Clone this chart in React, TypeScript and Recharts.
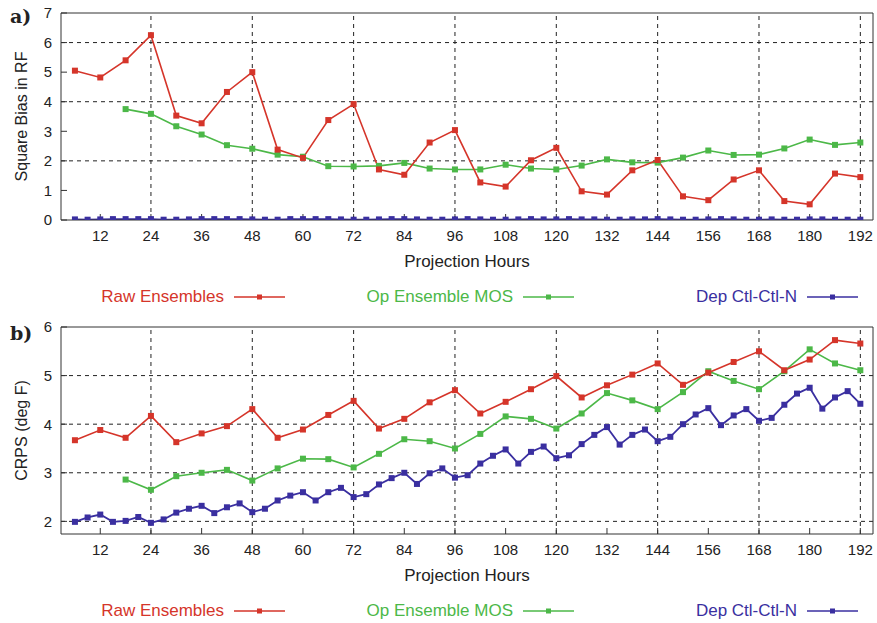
import { LineChart, Line, XAxis, YAxis, ReferenceLine } from 'recharts'

// projection hours (x values)
const hours6 = [6, 12, 18, 24, 30, 36, 42, 48, 54, 60, 66, 72, 78, 84, 90, 96, 102, 108, 114, 120, 126, 132, 138, 144, 150, 156, 162, 168, 174, 180, 186, 192]
const hours3 = [
  6, 9, 12, 15, 18, 21, 24, 27, 30, 33, 36, 39, 42, 45, 48, 51, 54, 57, 60, 63, 66,
  69, 72, 75, 78, 81, 84, 87, 90, 93, 96, 99, 102, 105, 108, 111, 114, 117, 120, 123, 126,
  129, 132, 135, 138, 141, 144, 147, 150, 153, 156, 159, 162, 165, 168, 171, 174, 177, 180, 183, 186, 189, 192,
]
const xTicks = [12, 24, 36, 48, 60, 72, 84, 96, 108, 120, 132, 144, 156, 168, 180, 192]
const xGrid = [24, 48, 72, 96, 120, 144, 168, 192]

// panel a) square bias in RF
const rawBias = [5.05, 4.82, 5.4, 6.25, 3.53, 3.27, 4.33, 5.0, 2.38, 2.1, 3.38, 3.92, 1.71, 1.53, 2.62, 3.04, 1.27, 1.13, 2.02, 2.44, 0.97, 0.86, 1.68, 2.03, 0.8, 0.67, 1.37, 1.68, 0.64, 0.53, 1.57, 1.45]
const mosBias = [3.75, 3.59, 3.17, 2.89, 2.53, 2.41, 2.21, 2.14, 1.82, 1.81, 1.83, 1.93, 1.74, 1.71, 1.71, 1.87, 1.74, 1.71, 1.84, 2.05, 1.95, 1.94, 2.11, 2.35, 2.2, 2.21, 2.42, 2.72, 2.54, 2.62]
const depBias = [
  0.02, 0.01, 0.02, 0.03, 0.03, 0.03, 0.03, 0.01, 0.01, 0.02,
  0.03, 0.03, 0.03, 0.03, 0.02, 0.01, 0.01, 0.03, 0.03, 0.03,
  0.03, 0.02, 0.01, 0.01, 0.02, 0.03, 0.03, 0.02, 0.01, 0.01,
  0.02, 0.03, 0.02, 0.01, 0.01, 0.02, 0.03, 0.02, 0.02, 0.03,
  0.02, 0.02, 0.01, 0.01, 0.02, 0.02, 0.03, 0.02, 0.01, 0.01,
  0.02, 0.03, 0.02, 0.01, 0.01, 0.02, 0.01, 0.01, 0.02, 0.02,
  0.01, 0.01, 0.01,
]
const biasTicks = [0, 1, 2, 3, 4, 5, 6, 7]
const biasGrid = [2, 4, 6]

// panel b) CRPS
const rawCrps = [3.67, 3.88, 3.72, 4.17, 3.63, 3.81, 3.96, 4.31, 3.72, 3.89, 4.19, 4.48, 3.91, 4.11, 4.45, 4.7, 4.22, 4.46, 4.72, 4.99, 4.55, 4.8, 5.02, 5.25, 4.81, 5.06, 5.28, 5.5, 5.11, 5.33, 5.73, 5.66]
const mosCrps = [2.86, 2.65, 2.93, 3.0, 3.06, 2.84, 3.09, 3.29, 3.28, 3.11, 3.39, 3.69, 3.65, 3.5, 3.8, 4.16, 4.11, 3.91, 4.22, 4.64, 4.49, 4.31, 4.66, 5.09, 4.89, 4.72, 5.09, 5.54, 5.25, 5.11]
const depCrps = [
  1.99, 2.08, 2.14, 1.99, 2.01, 2.09, 1.97, 2.04, 2.18, 2.26,
  2.32, 2.17, 2.29, 2.37, 2.19, 2.26, 2.43, 2.53, 2.6, 2.43,
  2.6, 2.69, 2.5, 2.56, 2.76, 2.89, 3.0, 2.77, 2.99, 3.09,
  2.9, 2.95, 3.19, 3.35, 3.48, 3.19, 3.43, 3.54, 3.3, 3.36,
  3.59, 3.78, 3.94, 3.58, 3.78, 3.89, 3.65, 3.74, 4.0, 4.2,
  4.33, 3.98, 4.18, 4.31, 4.07, 4.13, 4.4, 4.63, 4.75, 4.32,
  4.55, 4.68, 4.42,
]
const crpsTicks = [2, 3, 4, 5, 6]
const crpsGrid = [2, 3, 4, 5]

const RED = '#d5352a'
const GREEN = '#4cb848'
const BLUE = '#3a2fa0'
const FONT = '"Liberation Sans", Arial, sans-serif'
const AXIS = '#333'

const zip = (xs: number[], ys: number[]) => ys.map((v, i) => ({ hour: xs[i], value: v }))

const square = (color: string) => (p: any) =>
  p.cx == null ? null : <rect key={p.index} x={p.cx - 3} y={p.cy - 3} width={6} height={6} fill={color} />

interface PanelProps {
  top: number
  yLabel: string
  yDomain: [number, number]
  yTicks: number[]
  yGrid: number[]
  raw: number[]
  mos: number[]
  dep: number[]
}

function Panel({ top, yLabel, yDomain, yTicks, yGrid, raw, mos, dep }: PanelProps) {
  const tickStyle = { fontSize: 15, fill: '#222', fontFamily: FONT }
  return (
    <div style={{ position: 'absolute', left: 0, top }}>
      <LineChart width={877} height={281} margin={{ top: 12, right: 0, left: 0, bottom: 30 }}>
        <XAxis
          xAxisId="b"
          dataKey="hour"
          type="number"
          domain={[2.7, 195]}
          ticks={xTicks}
          allowDataOverflow
          height={31}
          tickSize={-6}
          tickMargin={16}
          stroke={AXIS}
          tick={tickStyle}
          label={{ value: 'Projection Hours', position: 'bottom', offset: 4, style: { fontSize: 17, fill: '#222', fontFamily: FONT } }}
        />
        <XAxis
          xAxisId="t"
          orientation="top"
          dataKey="hour"
          type="number"
          domain={[2.7, 195]}
          ticks={xTicks}
          allowDataOverflow
          height={1}
          tickSize={-6}
          tick={false}
          stroke={AXIS}
        />
        <YAxis
          yAxisId="l"
          domain={yDomain}
          ticks={yTicks}
          allowDataOverflow
          width={61}
          tickSize={-6}
          tickMargin={15}
          stroke={AXIS}
          tick={tickStyle}
          label={{ value: yLabel, angle: -90, position: 'center', dx: -9, style: { fontSize: 16, fill: '#222', fontFamily: FONT } }}
        />
        <YAxis
          yAxisId="r"
          orientation="right"
          domain={yDomain}
          ticks={yTicks}
          allowDataOverflow
          width={4}
          tickSize={-6}
          tick={false}
          stroke={AXIS}
        />
        {xGrid.map((h) => (
          <ReferenceLine key={'x' + h} x={h} xAxisId="b" yAxisId="l" stroke="#222" strokeDasharray="4 4" />
        ))}
        {yGrid.map((v) => (
          <ReferenceLine key={'y' + v} y={v} xAxisId="b" yAxisId="l" stroke="#222" strokeDasharray="4 4" />
        ))}
        <Line xAxisId="b" yAxisId="l" data={zip(hours3, dep)} dataKey="value" stroke={BLUE} strokeWidth={1.8} dot={square(BLUE)} activeDot={false} isAnimationActive={false} />
        <Line xAxisId="b" yAxisId="l" data={zip(hours6.slice(2), mos)} dataKey="value" stroke={GREEN} strokeWidth={1.6} dot={square(GREEN)} activeDot={false} isAnimationActive={false} />
        <Line xAxisId="b" yAxisId="l" data={zip(hours6, raw)} dataKey="value" stroke={RED} strokeWidth={1.6} dot={square(RED)} activeDot={false} isAnimationActive={false} />
      </LineChart>
    </div>
  )
}

const legendItems = [
  { name: 'Raw Ensembles', color: RED, lineStart: 234 },
  { name: 'Op Ensemble MOS', color: GREEN, lineStart: 523 },
  { name: 'Dep Ctl-Ctl-N', color: BLUE, lineStart: 807 },
]

function LegendRow({ y }: { y: number }) {
  return (
    <>
      {legendItems.map((it) => (
        <div key={it.name}>
          <div
            style={{
              position: 'absolute',
              left: it.lineStart - 210,
              top: y - 11,
              width: 200,
              textAlign: 'right',
              fontFamily: FONT,
              fontSize: 17,
              lineHeight: '22px',
              color: it.color,
              whiteSpace: 'nowrap',
            }}
          >
            {it.name}
          </div>
          <svg style={{ position: 'absolute', left: it.lineStart, top: y - 4 }} width={52} height={8}>
            <line x1={0} y1={4} x2={51} y2={4} stroke={it.color} strokeWidth={1.5} />
            <rect x={23} y={1.5} width={5} height={5} fill={it.color} />
          </svg>
        </div>
      ))}
    </>
  )
}

const panelLabel = (text: string, top: number) => (
  <div
    style={{
      position: 'absolute',
      left: 10,
      top,
      fontFamily: '"DejaVu Serif", serif',
      fontWeight: 'bold',
      fontSize: 19,
      lineHeight: '20px',
      color: '#222',
    }}
  >
    {text}
  </div>
)

export default function App() {
  return (
    <div style={{ position: 'absolute', left: 0, top: 0, width: 877, height: 623, background: '#fff', overflow: 'hidden' }}>
      <Panel top={0} yLabel="Square Bias in RF" yDomain={[0, 7]} yTicks={biasTicks} yGrid={biasGrid} raw={rawBias} mos={mosBias} dep={depBias} />
      <Panel top={314} yLabel="CRPS (deg F)" yDomain={[1.74, 6]} yTicks={crpsTicks} yGrid={crpsGrid} raw={rawCrps} mos={mosCrps} dep={depCrps} />
      <LegendRow y={297} />
      <LegendRow y={611} />
      {panelLabel('a)', 6)}
      {panelLabel('b)', 323)}
    </div>
  )
}
